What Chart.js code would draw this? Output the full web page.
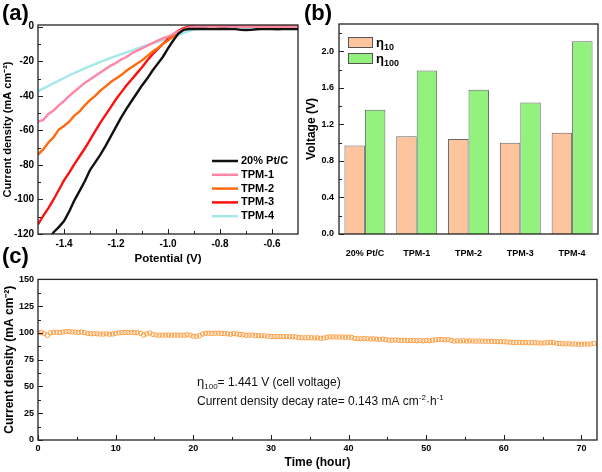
<!DOCTYPE html>
<html><head><meta charset="utf-8">
<script src="https://cdn.jsdelivr.net/npm/chart.js@4.4.0/dist/chart.umd.min.js"></script>
<style>
html,body{margin:0;padding:0;background:#fff;}
#wrap{position:relative;width:602px;height:472px;overflow:hidden;font-family:"Liberation Sans",Arial,sans-serif;}
canvas{position:absolute;}
.lab{position:absolute;font-weight:bold;font-size:22px;line-height:24px;color:#000;}
</style></head>
<body><div id="wrap">
<canvas id="ca" style="left:0;top:0" width="300" height="268"></canvas>
<canvas id="cb" style="left:300px;top:0" width="302" height="272"></canvas>
<canvas id="cc" style="left:0;top:270px" width="602" height="202"></canvas>
<div class="lab" style="left:2px;top:1px">(a)</div>
<div class="lab" style="left:304px;top:1px">(b)</div>
<div class="lab" style="left:2px;top:244px">(c)</div>
</div>
<script>
// ---------- Panel (a): polarization curves ----------
const potential = [-1.50,-1.48,-1.46,-1.44,-1.42,-1.40,-1.38,-1.36,-1.34,-1.32,-1.30,-1.28,-1.26,-1.24,-1.22,-1.20,-1.18,-1.16,-1.14,-1.12,-1.10,-1.08,-1.06,-1.04,-1.02,-1.00,-0.98,-0.96,-0.94,-0.92,-0.90,-0.88,-0.86,-0.84,-0.82,-0.80,-0.78,-0.76,-0.74,-0.72,-0.70,-0.68,-0.66,-0.64,-0.62,-0.60,-0.58,-0.56,-0.54,-0.52,-0.50];
const ptc  = [-132,-128,-123.5,-119,-116,-112.5,-107,-100.5,-95,-89.5,-83,-78.5,-74,-69,-63.5,-58,-52.5,-47.5,-43,-38.5,-34,-30,-25.5,-21.5,-17.5,-12.5,-8,-4,-1.8,-1.3,-1.3,-1.3,-1.3,-1.4,-1.4,-1.3,-1.3,-1.4,-1.4,-1.8,-1.9,-1.8,-1.5,-1.4,-1.4,-1.4,-1.5,-1.4,-1.4,-1.4,-1.4];
const tpm1 = [-55,-54,-50.5,-48.5,-45.5,-43,-40,-37.5,-35,-32.5,-30.5,-28.5,-26.5,-24.5,-22.5,-21,-19,-17.5,-15.5,-14,-12.5,-11,-9.5,-8,-6.8,-5.8,-4.2,-2.8,-1.5,-0.5,0,0.1,0.1,0.1,0.1,0.1,0.1,0.1,0.1,0.1,0.1,0.1,0.1,0.1,0.1,0.1,0.1,0.1,0.1,0.1,0.1];
const tpm2 = [-74,-71,-67,-64,-59.5,-57.5,-55,-51.5,-49,-45.5,-42.5,-40,-37,-34.5,-32,-30,-28,-25.5,-23.5,-21.5,-19.5,-17,-14.5,-12.5,-10,-8,-5.5,-3.5,-1.8,-0.6,0,0.2,0.2,0.2,0.2,0.2,0.2,0.2,0.2,0.2,0.2,0.2,0.2,0.2,0.2,0.2,0.2,0.2,0.2,0.2,0.2];
const tpm3 = [-114.5,-109.5,-105,-100,-94.5,-89,-84.5,-79.5,-75,-70.5,-65.5,-60.5,-55.5,-51,-46.5,-42,-38,-34,-30.5,-27,-23.5,-19.5,-16,-13,-10,-7,-4.5,-2.3,-0.8,0,0.4,0.6,0.6,0.5,0.5,0.5,0.5,0.5,0.5,0.5,0.5,0.5,0.5,0.5,0.5,0.5,0.5,0.5,0.5,0.5,0.5];
const tpm4 = [-37.3,-35.8,-34.3,-32.7,-31.2,-29.7,-28.1,-26.8,-25.4,-24.1,-22.8,-21.6,-20.3,-19.2,-18.1,-17,-15.9,-14.8,-13.8,-12.7,-11.7,-10.7,-9.7,-8.8,-7.8,-6.9,-5.8,-4.8,-3.6,-2.6,-1.6,-1.0,-0.7,-0.5,-0.5,-0.5,-0.5,-0.5,-0.5,-0.5,-0.5,-0.5,-0.5,-0.5,-0.5,-0.5,-0.5,-0.5,-0.5,-0.5,-0.5];
const seriesNames = ['20% Pt/C','TPM-1','TPM-2','TPM-3','TPM-4'];
const potentialTicks = [-1.4,-1.2,-1.0,-0.8,-0.6];
const currentTicks = [0,-20,-40,-60,-80,-100,-120];

// ---------- Panel (b): overpotentials ----------
const catalysts = ['20% Pt/C','TPM-1','TPM-2','TPM-3','TPM-4'];
const eta10  = [0.97,1.07,1.04,1.00,1.11];
const eta100 = [1.36,1.79,1.58,1.44,2.11];
const voltageTicks = [0.0,0.4,0.8,1.2,1.6,2.0];

// ---------- Panel (c): stability ----------
const sampleStepHours = 0.4;
const stabilityCurrent = [
100.3,100.5,99.5,97.8,100,100.5,100.6,100.4,100.8,101.2,
101.3,101,100.8,100.5,100.7,100.3,99.5,99.2,99.3,99.2,
99.0,98.9,99.2,98.8,99.0,99.5,100.1,100.3,100.4,100.5,
100.6,100.4,100.2,99.6,98.0,99.2,100.0,98.6,98.0,97.9,
98.0,97.9,98.1,97.8,98.0,97.9,98.0,97.8,98.3,97.9,
97.0,96.8,97.5,99.0,99.6,99.8,99.5,99.8,99.9,99.6,
99.5,99.2,98.8,99.4,99.0,98.6,98.3,97.8,97.9,98.0,
97.6,97.5,97.4,97.2,97.0,96.8,96.7,96.6,96.7,96.5,
96.5,96.4,96.5,96.3,95.6,95.5,95.4,95.6,95.5,95.3,
95.4,95.0,95.2,96.0,96.4,96.2,96.3,96.1,96.2,96.0,
96.1,95.8,94.8,94.6,94.5,94.7,94.6,94.4,94.5,94.2,
94.0,94.2,93.8,93.3,93.2,93.4,93.1,93.0,93.2,92.9,
92.8,93.0,92.7,92.8,92.6,92.9,92.7,93.2,93.6,93.8,
93.9,93.6,93.7,93.2,92.4,92.6,92.5,92.7,92.4,92.6,
92.5,92.3,92.5,92.4,92.2,92.3,92.1,92.0,91.9,91.8,
91.8,91.6,91.3,91.1,91.0,91.2,90.9,91.1,90.8,91.0,
90.9,90.7,90.5,90.6,90.9,91.2,91.0,90.3,90.1,89.9,
89.8,89.9,89.6,89.7,89.5,89.4,89.6,89.5,89.7,90.2];
const hourTicks = [0,10,20,30,40,50,60,70];
const stabilityTicks = [0,25,50,75,100,125,150];

// ---------- helpers ----------
const FAM = '"Liberation Sans", Arial, sans-serif';
Chart.defaults.font.family = FAM;
Chart.defaults.color = '#000';
Chart.defaults.animation = false;

function richText(ctx, x, y, parts) {
  for (const p of parts) {
    ctx.font = (p.w || 'normal') + ' ' + p.s + 'px ' + FAM;
    ctx.fillText(p.t, x, y + (p.dy || 0));
    x += ctx.measureText(p.t).width;
  }
  return x;
}

const frameTicks = {
  id: 'frameTicks',
  afterDatasetsDraw(chart, args, opts) {
    const {ctx, chartArea: a} = chart;
    ctx.save();
    ctx.strokeStyle = '#222';
    ctx.lineWidth = 1.3;
    ctx.strokeRect(a.left, a.top, a.right - a.left, a.bottom - a.top);
    ctx.lineWidth = 1;
    (opts.axes || []).forEach(id => {
      const s = chart.scales[id];
      const vals = s.ticks.map(t => t.value);
      const minors = [];
      for (let i = 0; i < vals.length - 1; i++) minors.push((vals[i] + vals[i + 1]) / 2);
      if (vals.length > 1) {
        const st = vals[1] - vals[0];
        const lo = Math.min(s.min, s.max), hi = Math.max(s.min, s.max);
        const before = vals[0] - st / 2, after = vals[vals.length - 1] + st / 2;
        if (before > lo && before < hi) minors.push(before);
        if (after > lo && after < hi) minors.push(after);
      }
      const draw = (v, len) => {
        const p = Math.round(s.getPixelForValue(v)) + 0.5;
        ctx.beginPath();
        if (s.isHorizontal()) { ctx.moveTo(p, a.bottom); ctx.lineTo(p, a.bottom - len); }
        else { ctx.moveTo(a.left, p); ctx.lineTo(a.left + len, p); }
        ctx.stroke();
      };
      vals.forEach(v => draw(v, 5));
      minors.forEach(v => draw(v, 3));
    });
    ctx.restore();
  }
};

function fixedTicks(arr) { return (scale) => { scale.ticks = arr.map(v => ({value: v})); }; }
const tickFont = (s) => ({size: s, weight: 'bold', family: FAM});

// ---------- Chart (a) ----------
const lineColors = ['#111111', '#FF86A6', '#FF6A0E', '#FF1010', '#A4E8EA'];
const lineSeries = [ptc, tpm1, tpm2, tpm3, tpm4];
const legendA = {
  id: 'legendA',
  afterDraw(chart) {
    const {ctx, chartArea: a} = chart;
    ctx.save();
    ctx.textBaseline = 'middle';
    ctx.font = 'bold 11px ' + FAM;
    ctx.fillStyle = '#000';
    seriesNames.forEach((n, i) => {
      const y = a.bottom - 73 + i * 13.8;
      ctx.strokeStyle = lineColors[i];
      ctx.lineWidth = 2.5;
      ctx.beginPath(); ctx.moveTo(a.right - 86, y); ctx.lineTo(a.right - 60, y); ctx.stroke();
      ctx.fillText(n, a.right - 57, y);
    });
    ctx.restore();
  }
};
new Chart(document.getElementById('ca'), {
  type: 'line',
  data: {
    datasets: lineSeries.map((ser, i) => ({
      label: seriesNames[i],
      data: ser.map((v, j) => ({x: potential[j], y: v})),
      borderColor: lineColors[i],
      borderWidth: 2.4,
      pointRadius: 0,
      tension: 0,
      fill: false
    }))
  },
  options: {
    responsive: false,
    layout: {padding: {top: 25, right: 2, left: 0, bottom: 0}},
    plugins: {legend: {display: false}, tooltip: {enabled: false}, frameTicks: {axes: ['x', 'y']}},
    scales: {
      x: {
        type: 'linear', min: -1.5, max: -0.5,
        afterBuildTicks: fixedTicks(potentialTicks),
        afterFit: (s) => { s.height = 34; },
        grid: {display: false, drawTicks: false},
        border: {display: false},
        ticks: {font: tickFont(10), padding: 4, callback: (v) => v.toFixed(1)},
        title: {display: true, text: 'Potential (V)', font: {size: 11.5, weight: 'bold'}, padding: {top: 0, bottom: 2}}
      },
      y: {
        type: 'linear', min: -120, max: 1,
        afterBuildTicks: fixedTicks(currentTicks),
        afterFit: (s) => { s.width = 38; },
        grid: {display: false, drawTicks: false},
        border: {display: false},
        ticks: {font: tickFont(10), padding: 4, callback: (v) => String(v)},
        title: {display: true, text: 'Current density (mA cm\u207B\u00B2)', font: {size: 11, weight: 'bold'}, padding: {top: 1, bottom: 0}}
      }
    }
  },
  plugins: [frameTicks, legendA]
});

// ---------- Chart (b) ----------
const barColors = ['#FDC49E', '#93F27E'];
const legendB = {
  id: 'legendB',
  afterDraw(chart) {
    const {ctx, chartArea: a} = chart;
    ctx.save();
    const labels = [['10'], ['100']];
    labels.forEach((sub, i) => {
      const y0 = a.top + 13 + i * 16;
      ctx.fillStyle = barColors[i];
      ctx.fillRect(a.left + 9, y0, 25, 11);
      ctx.strokeStyle = '#555';
      ctx.lineWidth = 1;
      ctx.strokeRect(a.left + 9.5, y0 + 0.5, 24, 10);
      ctx.fillStyle = '#000';
      ctx.textBaseline = 'alphabetic';
      richText(ctx, a.left + 37, y0 + 9.5, [{t: '\u03B7', s: 13, w: 'bold'}, {t: sub[0], s: 9, w: 'bold', dy: 3}]);
    });
    ctx.restore();
  }
};
new Chart(document.getElementById('cb'), {
  type: 'bar',
  data: {
    labels: catalysts,
    datasets: [
      {label: '\u03B710', data: eta10, backgroundColor: barColors[0], borderColor: '#666', borderWidth: 1, categoryPercentage: 0.79, barPercentage: 1.0},
      {label: '\u03B7100', data: eta100, backgroundColor: barColors[1], borderColor: '#666', borderWidth: 1, categoryPercentage: 0.79, barPercentage: 1.0}
    ]
  },
  options: {
    responsive: false,
    layout: {padding: {top: 24, right: 4, left: 0, bottom: 0}},
    plugins: {legend: {display: false}, tooltip: {enabled: false}, frameTicks: {axes: ['y']}},
    scales: {
      x: {
        afterFit: (s) => { s.height = 38; },
        grid: {display: false, drawTicks: false},
        border: {display: false},
        ticks: {font: tickFont(9), padding: 14, maxRotation: 0}
      },
      y: {
        type: 'linear', min: 0, max: 2.3,
        afterBuildTicks: fixedTicks(voltageTicks),
        afterFit: (s) => { s.width = 39; },
        grid: {display: false, drawTicks: false},
        border: {display: false},
        ticks: {font: tickFont(9), padding: 5, callback: (v) => v.toFixed(1)},
        title: {display: true, text: 'Voltage (V)', font: {size: 12, weight: 'bold'}, padding: {top: 4, bottom: 0}}
      }
    }
  },
  plugins: [frameTicks, legendB]
});

// ---------- Chart (c) ----------
const noteC = {
  id: 'noteC',
  afterDraw(chart) {
    const {ctx} = chart;
    ctx.save();
    ctx.fillStyle = '#111';
    ctx.textBaseline = 'alphabetic';
    richText(ctx, 197, 116, [{t: '\u03B7', s: 13}, {t: '100', s: 8, dy: 3}, {t: '= 1.441 V (cell voltage)', s: 12}]);
    richText(ctx, 197, 135, [{t: 'Current density decay rate= 0.143 mA cm', s: 12}, {t: '-2', s: 8, dy: -5}, {t: '\u00B7h', s: 12}, {t: '-1', s: 8, dy: -5}]);
    ctx.restore();
  }
};
new Chart(document.getElementById('cc'), {
  type: 'scatter',
  data: {
    datasets: [{
      data: stabilityCurrent.map((v, i) => ({x: i * sampleStepHours, y: v})),
      borderColor: '#FF9A3C',
      backgroundColor: 'rgba(255,255,255,0)',
      pointRadius: 2.2,
      pointBorderWidth: 1,
      showLine: false
    }]
  },
  options: {
    responsive: false,
    layout: {padding: {top: 9, right: 3, left: 0, bottom: 0}},
    plugins: {legend: {display: false}, tooltip: {enabled: false}, frameTicks: {axes: ['x', 'y']}},
    scales: {
      x: {
        type: 'linear', min: 0, max: 72,
        afterBuildTicks: fixedTicks(hourTicks),
        afterFit: (s) => { s.height = 32; },
        grid: {display: false, drawTicks: false},
        border: {display: false},
        ticks: {font: tickFont(9), padding: 3, callback: (v) => String(v)},
        title: {display: true, text: 'Time (hour)', font: {size: 12, weight: 'bold'}, padding: {top: 0, bottom: 2}}
      },
      y: {
        type: 'linear', min: 0, max: 150,
        afterBuildTicks: fixedTicks(stabilityTicks),
        afterFit: (s) => { s.width = 38; },
        grid: {display: false, drawTicks: false},
        border: {display: false},
        ticks: {font: tickFont(9), padding: 4, callback: (v) => String(v)},
        title: {display: true, text: 'Current density (mA cm\u207B\u00B2)', font: {size: 12, weight: 'bold'}, padding: {top: 2, bottom: 0}}
      }
    }
  },
  plugins: [frameTicks, noteC]
});
</script>
</body></html>
